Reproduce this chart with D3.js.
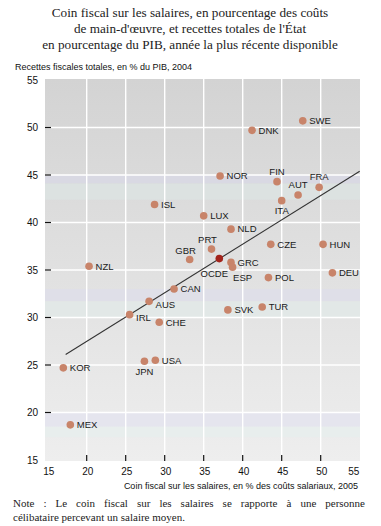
<!DOCTYPE html>
<html><head><meta charset="utf-8">
<script src="https://cdn.jsdelivr.net/npm/d3@7"></script>
<style>body{margin:0;background:#fff}svg{display:block}</style>
</head><body>
<script>
// ---- data ----
const countries = ["SWE","DNK","NOR","FIN","FRA","AUT","ITA","ISL","LUX","NLD","CZE","HUN","PRT","GBR","GRC","ESP","NZL","POL","DEU","CAN","AUS","TUR","SVK","IRL","CHE","USA","JPN","KOR","MEX","OCDE"];
const taxWedge = [47.7,41.2,37.1,44.4,49.8,47.1,45.0,28.7,35.0,38.5,43.6,50.3,36.0,33.2,38.5,38.7,20.3,43.3,51.5,31.2,28.0,42.5,38.1,25.5,29.3,28.8,27.4,17.0,17.9,37.0];
const taxRevenue = [50.7,49.7,44.9,44.3,43.7,42.9,42.3,41.9,40.7,39.3,37.7,37.7,37.2,36.1,35.8,35.3,35.4,34.2,34.7,33.0,31.7,31.1,30.8,30.3,29.5,25.5,25.4,24.7,18.7,36.2];
const trendX = [17.3, 55];
const trendY = [26.1, 45.4];
const xTicks = [15,20,25,30,35,40,45,50,55];
const yTicks = [15,20,25,30,35,40,45,50,55];
const titleLines = ["Coin fiscal sur les salaires, en pourcentage des coûts","de main-d'œuvre, et recettes totales de l'État","en pourcentage du PIB, année la plus récente disponible"];
const yTitle = "Recettes fiscales totales, en % du PIB, 2004";
const xTitle = "Coin fiscal sur les salaires, en % des coûts salariaux, 2005";
const noteLines = ["Note : Le coin fiscal sur les salaires se rapporte à une personne","célibataire percevant un salaire moyen."];

// label placement (layout only)
const place = {FIN:"above",FRA:"above",AUT:"above",ITA:"below",PRT:"aboveleft",GBR:"aboveleft",OCDE:"belowleft",ESP:"belowright",JPN:"below",AUS:"rightlow",IRL:"rightlow"};

const W=381,H=526;
const svg=d3.select("body").append("svg").attr("width",W).attr("height",H);
svg.append("rect").attr("width",W).attr("height",H).attr("fill","#fff");

const x=d3.scaleLinear().domain([15,55]).range([47.7,359.7]);
const y=d3.scaleLinear().domain([15,55]).range([460,80]);
const plotL=45, plotR=360, plotT=79, plotB=461;

const defs=svg.append("defs");
const g=defs.append("linearGradient").attr("id","bg").attr("x1",0).attr("y1",0).attr("x2",0).attr("y2",1);
g.append("stop").attr("offset","0").attr("stop-color","#d3d3d3");
g.append("stop").attr("offset","1").attr("stop-color","#eeeeee");
svg.append("rect").attr("x",plotL).attr("y",plotT).attr("width",plotR-plotL).attr("height",plotB-plotT).attr("fill","url(#bg)");

// print banding
const bands=[[45,44.1,"#d9d9e3"],[44.1,42.4,"#dce2e1"],[33.0,31.7,"#dfdfe8"],[31.7,30,"#e2e8e7"],[20,18.5,"#e5e5ee"],[18.5,17.4,"#e8eeed"]];
svg.selectAll(".band").data(bands).join("rect")
  .attr("x",plotL).attr("width",plotR-plotL)
  .attr("y",d=>y(d[0])).attr("height",d=>y(d[1])-y(d[0])).attr("fill",d=>d[2]);

// gridlines
svg.selectAll(".vg").data(xTicks.filter(t=>t>15&&t<55)).join("line")
  .attr("x1",d=>x(d)).attr("x2",d=>x(d)).attr("y1",plotT).attr("y2",plotB)
  .attr("stroke","#fff").attr("stroke-width",1.4);
svg.selectAll(".hg").data(yTicks.filter(t=>t>15&&t<55)).join("line")
  .attr("y1",d=>y(d)).attr("y2",d=>y(d)).attr("x1",plotL).attr("x2",plotR)
  .attr("stroke","#fff").attr("stroke-width",1.4);

// axes ticks
svg.selectAll(".yt").data(yTicks.filter(t=>t>15&&t<55)).join("line")
  .attr("x1",plotL).attr("x2",plotL+6).attr("y1",d=>y(d)).attr("y2",d=>y(d))
  .attr("stroke","#111").attr("stroke-width",1.2);
svg.selectAll(".xt").data(xTicks.filter(t=>t>15&&t<55)).join("line")
  .attr("x1",d=>x(d)).attr("x2",d=>x(d)).attr("y1",plotB-6).attr("y2",plotB)
  .attr("stroke","#111").attr("stroke-width",1.2);

const sans="'Liberation Sans', Arial, sans-serif";
const serif="'Liberation Serif', 'Times New Roman', serif";

svg.selectAll(".yl").data(yTicks).join("text")
  .attr("x",38).attr("y",d=>y(d)+3.5).attr("text-anchor","end")
  .attr("font-family",sans).attr("font-size",10).attr("fill","#111").text(d=>d);
svg.selectAll(".xl").data(xTicks).join("text")
  .attr("x",d=>d===55?x(d)-6:x(d)+1).attr("y",475).attr("text-anchor","middle")
  .attr("font-family",sans).attr("font-size",10).attr("fill","#111").text(d=>d);

// titles
svg.selectAll(".tt").data(titleLines).join("text")
  .attr("x",190).attr("y",(d,i)=>17+i*16).attr("text-anchor","middle")
  .attr("font-family",serif).attr("font-size",13.2).attr("fill","#222").text(d=>d);
svg.append("text").attr("x",15).attr("y",70).attr("font-family",sans).attr("font-size",9)
  .attr("fill","#111").text(yTitle);
svg.append("text").attr("x",358).attr("y",489).attr("text-anchor","end").attr("font-family",sans).attr("font-size",9)
  .attr("fill","#111").text(xTitle);
const n1=svg.append("text").attr("x",13).attr("y",507).attr("font-family",serif).attr("font-size",11)
  .attr("fill","#222").text(noteLines[0]);
const nat=n1.node().getComputedTextLength();
const spaces=(noteLines[0].match(/ /g)||[]).length;
n1.attr("word-spacing",Math.max(0,(352-nat)/spaces));
svg.append("text").attr("x",13).attr("y",521).attr("font-family",serif).attr("font-size",11)
  .attr("fill","#222").text(noteLines[1]);

// trend line
svg.append("path").datum(trendX.map((v,i)=>[v,trendY[i]]))
  .attr("d",d3.line().x(d=>x(d[0])).y(d=>y(d[1])))
  .attr("stroke","#333").attr("stroke-width",1.1).attr("fill","none");

// points
const pts=countries.map((c,i)=>({c,x:taxWedge[i],y:taxRevenue[i]}));
svg.selectAll(".pt").data(pts).join("circle")
  .attr("cx",d=>x(d.x)).attr("cy",d=>y(d.y)).attr("r",3.8)
  .attr("fill",d=>d.c==="OCDE"?"#a3241c":"#c8846a");

// labels
svg.selectAll(".lab").data(pts).join("text")
  .each(function(d){
    const px=x(d.x), py=y(d.y), p=place[d.c]||"right";
    let tx=px+6.5, ty=py+3.3, a="start";
    if(p==="above"){tx=px;ty=py-7;a="middle";}
    else if(p==="below"){tx=px;ty=py+13.5;a="middle";}
    else if(p==="aboveleft"){tx=px-4;ty=py-6;a="middle";}
    else if(p==="belowleft"){tx=px-5;ty=py+18;a="middle";}
    else if(p==="belowright"){tx=px+10;ty=py+14;a="middle";}
    else if(p==="rightlow"){tx=px+6.5;ty=py+6.5;a="start";}
    d3.select(this).attr("x",tx).attr("y",ty).attr("text-anchor",a);
  })
  .attr("font-family",sans).attr("font-size",9.5).attr("fill","#1a1a1a").text(d=>d.c);
</script>
</body></html>
